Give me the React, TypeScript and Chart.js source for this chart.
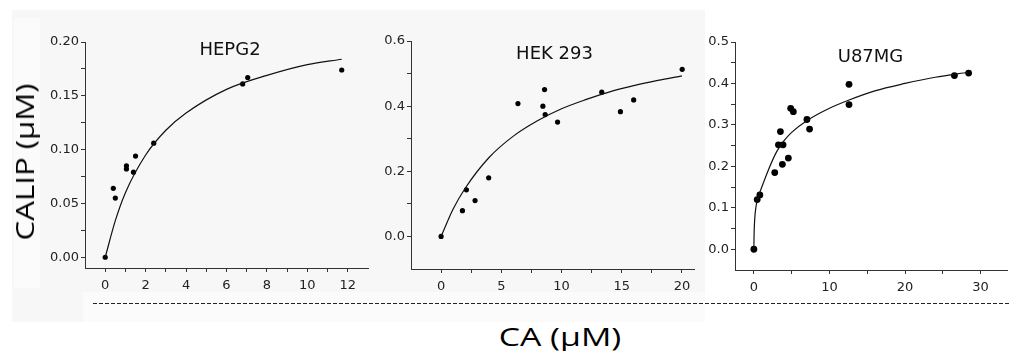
import React, { useEffect, useRef } from "react";
import { Chart, registerables } from "chart.js";

Chart.register(...registerables);

// ---------- data ----------
const hepg2X = [0, 0.4, 0.5, 1.05, 1.05, 1.4, 1.5, 2.4, 6.8, 7.05, 11.7];
const hepg2Y = [0, 0.064, 0.055, 0.085, 0.082, 0.079, 0.094, 0.106, 0.161, 0.167, 0.174];
const hepg2FitX = [0, 0.5, 1, 2, 3, 4, 6, 8, 10, 11.7];
const hepg2FitY = [0, 0.034, 0.06, 0.095, 0.118, 0.134, 0.156, 0.169, 0.179, 0.184];

const hekX = [0, 1.77, 2.1, 2.82, 3.95, 6.38, 8.45, 8.59, 8.64, 9.67, 13.34, 14.89, 15.99, 20.02];
const hekY = [0, 0.079, 0.143, 0.11, 0.18, 0.408, 0.4, 0.451, 0.374, 0.351, 0.443, 0.383, 0.419, 0.513];
const hekFitX = [0, 1, 2, 4, 6, 8, 10, 12, 14, 16, 18, 20];
const hekFitY = [0, 0.084, 0.148, 0.243, 0.308, 0.355, 0.392, 0.42, 0.444, 0.463, 0.479, 0.493];

const u87X = [0, 0.44, 0.79, 2.76, 3.25, 3.51, 3.77, 3.86, 4.56, 4.87, 5.22, 7.02, 7.37, 12.59, 12.59, 26.54, 28.42];
const u87Y = [0, 0.12, 0.131, 0.185, 0.252, 0.284, 0.205, 0.252, 0.22, 0.34, 0.332, 0.313, 0.29, 0.398, 0.349, 0.419, 0.425];
const u87FitX = [0, 0.02, 0.1, 0.3, 0.6, 1, 2, 3, 4, 5, 7, 10, 12.6, 16, 20, 24, 28.4];
const u87FitY = [0, 0.03, 0.07, 0.105, 0.128, 0.148, 0.195, 0.235, 0.262, 0.282, 0.31, 0.34, 0.36, 0.382, 0.4, 0.415, 0.427];

// tick labels (major) and minor tick steps
const hepg2XTicks = [0, 2, 4, 6, 8, 10, 12];
const hepg2YTicks = [0, 0.05, 0.1, 0.15, 0.2];
const hekXTicks = [0, 5, 10, 15, 20];
const hekYTicks = [0, 0.2, 0.4, 0.6];
const u87XTicks = [0, 10, 20, 30];
const u87YTicks = [0, 0.1, 0.2, 0.3, 0.4, 0.5];

const titles = ["HEPG2", "HEK 293", "U87MG"];
const yAxisTitle = "CALIP (\u03bcM)";
const xAxisTitle = "CA (\u03bcM)";

// ---------- layout ----------
const Y_AXIS_W = 55;
const X_AXIS_H = 28;
const PAD_TOP = 12;

type Panel = {
  xs: number[]; ys: number[]; fx: number[]; fy: number[];
  xMin: number; xMax: number; yMin: number; yMax: number;
  xMajor: number[]; yMajor: number[]; xMinor: number; yMinor: number;
  xDec: number; yDec: number; r: number;
  left: number; top: number; right: number; bottom: number; padRight: number;
};

const panels: Panel[] = [
  {
    xs: hepg2X, ys: hepg2Y, fx: hepg2FitX, fy: hepg2FitY,
    xMin: -1, xMax: 13, yMin: -0.01, yMax: 0.2,
    xMajor: hepg2XTicks, yMajor: hepg2YTicks, xMinor: 1, yMinor: 0.025,
    xDec: 0, yDec: 2, r: 2.6,
    left: 85, top: 42, right: 368, bottom: 268, padRight: 12,
  },
  {
    xs: hekX, ys: hekY, fx: hekFitX, fy: hekFitY,
    xMin: -2.5, xMax: 21, yMin: -0.1, yMax: 0.6,
    xMajor: hekXTicks, yMajor: hekYTicks, xMinor: 2.5, yMinor: 0.1,
    xDec: 0, yDec: 1, r: 2.6,
    left: 411, top: 41, right: 694, bottom: 269, padRight: 12,
  },
  {
    xs: u87X, ys: u87Y, fx: u87FitX, fy: u87FitY,
    xMin: -2.5, xMax: 33.5, yMin: -0.05, yMax: 0.5,
    xMajor: u87XTicks, yMajor: u87YTicks, xMinor: 5, yMinor: 0.05,
    xDec: 0, yDec: 1, r: 3.4,
    left: 735, top: 42, right: 1009, bottom: 270, padRight: 2,
  },
];

const TICK_FONT = { family: "'DejaVu Sans', sans-serif", size: 13 };
const AXIS_COLOR = "#333";

function buildTicks(major: number[], step: number) {
  const first = major[0];
  const last = major[major.length - 1];
  const n = Math.round((last - first) / step);
  const out: { value: number }[] = [];
  for (let i = 0; i <= n; i++) out.push({ value: +(first + i * step).toFixed(6) });
  return out;
}

function isMajor(v: number, major: number[]) {
  return major.some((m) => Math.abs(m - v) < 1e-6);
}

function makeConfig(p: Panel): any {
  const toPts = (xs: number[], ys: number[]) => xs.map((x, i) => ({ x, y: ys[i] }));
  return {
    type: "scatter",
    data: {
      datasets: [
        {
          data: toPts(p.fx, p.fy),
          showLine: true,
          pointRadius: 0,
          borderColor: "#111",
          borderWidth: 1.2,
          cubicInterpolationMode: "monotone",
          fill: false,
        },
        {
          data: toPts(p.xs, p.ys),
          pointRadius: p.r,
          pointBackgroundColor: "#000",
          pointBorderWidth: 0,
          backgroundColor: "#000",
          borderWidth: 0,
        },
      ],
    },
    options: {
      responsive: false,
      animation: false,
      events: [],
      layout: { padding: { top: PAD_TOP, right: p.padRight, left: 0, bottom: 0 } },
      plugins: { legend: { display: false }, tooltip: { enabled: false } },
      scales: {
        x: {
          type: "linear",
          min: p.xMin,
          max: p.xMax,
          afterBuildTicks: (s: any) => { s.ticks = buildTicks(p.xMajor, p.xMinor); },
          afterFit: (s: any) => { s.height = X_AXIS_H; },
          ticks: {
            autoSkip: false,
            maxRotation: 0,
            padding: 6,
            color: "#222",
            font: TICK_FONT,
            callback: (v: number) => (isMajor(v, p.xMajor) ? v.toFixed(p.xDec) : ""),
          },
          grid: { drawOnChartArea: false, drawTicks: true, tickLength: 4, color: AXIS_COLOR, lineWidth: 1 },
          border: { display: true, color: AXIS_COLOR, width: 1 },
        },
        y: {
          type: "linear",
          min: p.yMin,
          max: p.yMax,
          afterBuildTicks: (s: any) => { s.ticks = buildTicks(p.yMajor, p.yMinor); },
          afterFit: (s: any) => { s.width = Y_AXIS_W; },
          ticks: {
            autoSkip: false,
            padding: 2,
            color: "#222",
            font: TICK_FONT,
            callback: (v: number) => (isMajor(v, p.yMajor) ? v.toFixed(p.yDec) : ""),
          },
          grid: { drawOnChartArea: false, drawTicks: true, tickLength: 4, color: AXIS_COLOR, lineWidth: 1 },
          border: { display: true, color: AXIS_COLOR, width: 1 },
        },
      },
    },
  };
}

function PanelChart({ p }: { p: Panel }) {
  const ref = useRef<HTMLCanvasElement | null>(null);
  const cLeft = p.left - Y_AXIS_W;
  const cTop = p.top - PAD_TOP;
  const w = p.right - cLeft + p.padRight;
  const h = p.bottom - cTop + X_AXIS_H;
  useEffect(() => {
    if (!ref.current) return;
    const chart = new Chart(ref.current, makeConfig(p));
    return () => chart.destroy();
  }, []);
  return (
    <canvas
      ref={ref}
      width={w}
      height={h}
      style={{ position: "absolute", left: cLeft, top: cTop, width: w, height: h }}
    />
  );
}

const titlePos = [
  { x: 230, y: 48.5 },
  { x: 554.5, y: 53 },
  { x: 870.5, y: 56.3 },
];

export default function App() {
  return (
    <div
      style={{
        position: "absolute",
        left: 0,
        top: 0,
        width: 1011,
        height: 351,
        overflow: "hidden",
        background: "#fff",
      }}
    >
      {/* faint backgrounds of the original figure */}
      <div style={{ position: "absolute", left: 12, top: 10, width: 693, height: 312, background: "#f7f7f7" }} />
      <div style={{ position: "absolute", left: 14, top: 18, width: 26, height: 270, background: "#fbfbfb" }} />
      <div style={{ position: "absolute", left: 83, top: 292, width: 622, height: 30, background: "#fbfbfb" }} />

      {panels.map((p, i) => (
        <PanelChart key={i} p={p} />
      ))}

      {titles.map((t, i) => (
        <div
          key={t}
          style={{
            position: "absolute",
            left: titlePos[i].x,
            top: titlePos[i].y,
            transform: "translate(-50%, -50%)",
            fontFamily: "'DejaVu Sans', sans-serif",
            fontSize: 18,
            lineHeight: 1,
            whiteSpace: "nowrap",
            color: "#111",
          }}
        >
          {t}
        </div>
      ))}

      {/* y axis title */}
      <div
        style={{
          position: "absolute",
          left: 24,
          top: 162,
          transform: "translate(-50%, -50%) rotate(-90deg) scaleX(1.2)",
          fontFamily: "'Open Sans', sans-serif",
          fontSize: 26,
          lineHeight: 1,
          whiteSpace: "nowrap",
          color: "#000",
        }}
      >
        {yAxisTitle}
      </div>

      {/* dashed separator */}
      <div
        style={{
          position: "absolute",
          left: 93,
          top: 303,
          width: 918,
          height: 1,
          background: "repeating-linear-gradient(to right, #222 0px, #222 4px, transparent 4px, transparent 6px)",
        }}
      />

      {/* x axis title */}
      <div
        style={{
          position: "absolute",
          left: 560,
          top: 336,
          transform: "translate(-50%, -50%) scaleX(1.3)",
          fontFamily: "'Open Sans', sans-serif",
          fontSize: 26,
          lineHeight: 1,
          whiteSpace: "nowrap",
          color: "#000",
        }}
      >
        {xAxisTitle}
      </div>
    </div>
  );
}
